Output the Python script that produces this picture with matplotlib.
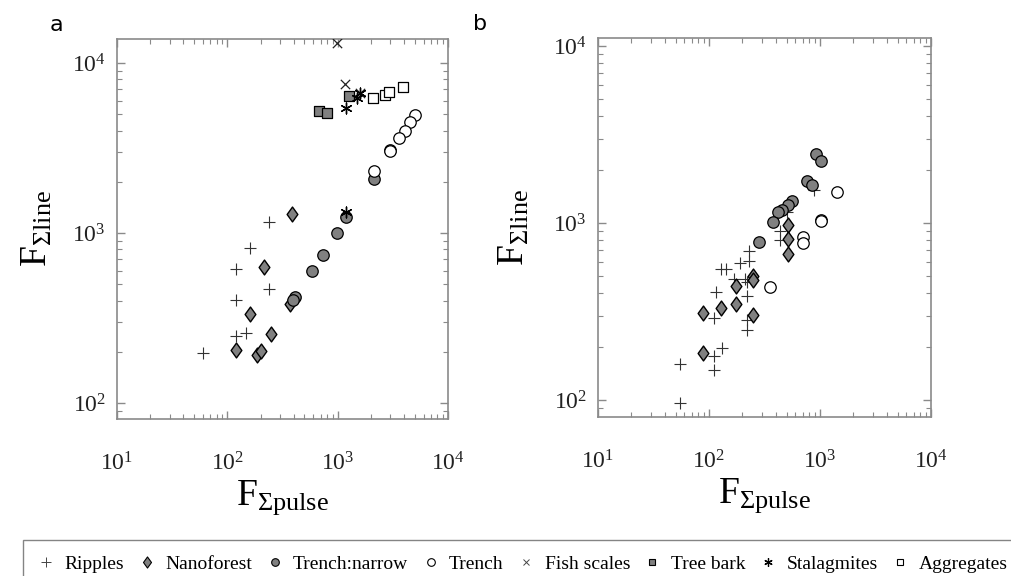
import matplotlib
matplotlib.use("Agg")
import matplotlib.pyplot as plt
from matplotlib.ticker import LogLocator, NullFormatter
from matplotlib.lines import Line2D
from matplotlib.path import Path

# panel a data: (F_pulse, F_line)
A_RIPPLES_X = [239, 160, 119, 239, 119, 119, 149, 60]
A_RIPPLES_Y = [1166, 813, 611, 467, 404, 249, 257, 196]
A_NANO_X = [389, 214, 160, 251, 119, 186, 201, 373]
A_NANO_Y = [1294, 634, 333, 255, 205, 192, 202, 381]
A_NARROW_X = [2120, 2960, 1200, 990, 736, 590, 414, 394]
A_NARROW_Y = [2080, 3080, 1250, 996, 743, 597, 422, 404]
A_TRENCH_X = [4980, 4490, 4040, 3590, 3000, 2120]
A_TRENCH_Y = [4940, 4480, 3980, 3600, 3030, 2300]
A_FISH_X = [980, 1175, 1580]
A_FISH_Y = [13100, 7500, 6700]
A_BARK_X = [673, 800, 1265]
A_BARK_Y = [5220, 5060, 6370]
A_STAL_X = [1200, 1580, 1510, 1200]
A_STAL_Y = [5410, 6640, 6190, 1323]
A_AGG_X = [2090, 2700, 2910, 3900]
A_AGG_Y = [6260, 6490, 6780, 7260]

# panel b data
B_RIPPLES_X = [55, 55, 111, 111, 130, 111, 116, 128, 141, 190, 231, 231,
               219, 219, 219, 219, 169, 437, 437, 889, 503, 211]
B_RIPPLES_Y = [96, 160, 147, 177, 197, 292, 406, 550, 550, 598, 693, 607,
               467, 389, 282, 249, 480, 798, 906, 1538, 1152, 480]
B_NANO_X = [511, 511, 511, 251, 251, 174, 174, 127, 88, 251, 88]
B_NANO_Y = [980, 816, 668, 501, 476, 442, 347, 330, 311, 301, 185]
B_NARROW_X = [920, 1020, 758, 853, 563, 511, 457, 416, 380, 284]
B_NARROW_Y = [2450, 2245, 1734, 1645, 1327, 1260, 1189, 1152, 1017, 776]
B_TRENCH_X = [1413, 1020, 1030, 708, 708, 355]
B_TRENCH_Y = [1490, 1045, 1030, 834, 766, 436]

LABELS = ["Ripples", "Nanoforest", "Trench:narrow", "Trench", "Fish scales",
          "Tree bark", "Stalagmites", "Aggregates"]

GREY = "#808080"
SERIF = ["Liberation Serif", "DejaVu Serif"]

plt.rcParams["font.family"] = SERIF
plt.rcParams["mathtext.fontset"] = "custom"
plt.rcParams["mathtext.rm"] = "Liberation Serif"
plt.rcParams["mathtext.it"] = "Liberation Serif"

# diamond a bit wider than matplotlib's thin 'd'
DIAMOND = Path([(0, 1), (0.72, 0), (0, -1), (-0.72, 0), (0, 1)],
               [Path.MOVETO, Path.LINETO, Path.LINETO, Path.LINETO, Path.CLOSEPOLY])

fig = plt.figure(figsize=(10.11, 5.76), dpi=100)
W, H = 1011, 576


def px_axes(l, t, r, b):
    return fig.add_axes([l / W, 1 - b / H, (r - l) / W, (b - t) / H])


def plot_series(ax, x, y, kind):
    if kind == "ripples":
        ax.scatter(x, y, marker="+", s=85, c="#333333", linewidths=0.8, zorder=3)
    elif kind == "nano":
        ax.scatter(x, y, marker=DIAMOND, s=115, c=GREY, edgecolors="black", linewidths=1.0, zorder=3)
    elif kind == "narrow":
        ax.scatter(x, y, marker="o", s=68, c=GREY, edgecolors="black", linewidths=0.9, zorder=3)
    elif kind == "trench":
        ax.scatter(x, y, marker="o", s=68, c="white", edgecolors="black", linewidths=0.9, zorder=3)
    elif kind == "fish":
        ax.scatter(x, y, marker="x", s=45, c="#222222", linewidths=0.9, zorder=4)
    elif kind == "bark":
        ax.scatter(x, y, marker="s", s=48, c=GREY, edgecolors="black", linewidths=0.9, zorder=3)
    elif kind == "stal":
        ax.scatter(x, y, marker=(6, 2, 0), s=60, c="black", linewidths=1.0, zorder=4)
    elif kind == "agg":
        ax.scatter(x, y, marker="s", s=48, c="white", edgecolors="black", linewidths=0.9, zorder=3)


def style_axes(ax, ylim):
    ax.set_xscale("log")
    ax.set_yscale("log")
    ax.set_xlim(10, 1e4)
    ax.set_ylim(*ylim)
    ax.set_xticks([1e1, 1e2, 1e3, 1e4])
    ax.set_yticks([1e2, 1e3, 1e4])
    ax.set_xticklabels([r"$10^1$", r"$10^2$", r"$10^3$", r"$10^4$"])
    ax.set_yticklabels([r"$10^2$", r"$10^3$", r"$10^4$"])
    ax.xaxis.set_minor_locator(LogLocator(base=10, subs=range(2, 10)))
    ax.yaxis.set_minor_locator(LogLocator(base=10, subs=range(2, 10)))
    ax.xaxis.set_minor_formatter(NullFormatter())
    ax.yaxis.set_minor_formatter(NullFormatter())
    for sp in ax.spines.values():
        sp.set_color("#8a8a8a")
        sp.set_linewidth(1.2)
    ax.tick_params(which="both", direction="in", top=True, right=True,
                   color="#8a8a8a", labelsize=17, labelcolor="#222222")
    ax.tick_params(which="major", length=6, width=1.0)
    ax.tick_params(which="minor", length=3.5, width=0.8)
    ax.tick_params(axis="x", which="major", pad=24)
    ax.tick_params(axis="y", which="major", pad=8)
    ax.set_xlabel(r"$\mathrm{F}_{\Sigma \mathrm{pulse}}$", fontsize=27)
    ax.set_ylabel(r"$\mathrm{F}_{\Sigma \mathrm{line}}$", fontsize=27)


ax_a = px_axes(117, 39, 448, 419)
plot_series(ax_a, A_RIPPLES_X, A_RIPPLES_Y, "ripples")
plot_series(ax_a, A_NANO_X, A_NANO_Y, "nano")
plot_series(ax_a, A_NARROW_X, A_NARROW_Y, "narrow")
plot_series(ax_a, A_TRENCH_X, A_TRENCH_Y, "trench")
plot_series(ax_a, A_BARK_X, A_BARK_Y, "bark")
plot_series(ax_a, A_AGG_X, A_AGG_Y, "agg")
plot_series(ax_a, A_FISH_X, A_FISH_Y, "fish")
plot_series(ax_a, A_STAL_X, A_STAL_Y, "stal")
style_axes(ax_a, (10 ** 1.906, 10 ** 4.141))
ax_a.yaxis.set_label_coords(-0.19, 0.5)
ax_a.xaxis.set_label_coords(0.5, -0.155)

ax_b = px_axes(598, 38, 931, 417)
plot_series(ax_b, B_RIPPLES_X, B_RIPPLES_Y, "ripples")
plot_series(ax_b, B_NANO_X, B_NANO_Y, "nano")
plot_series(ax_b, B_TRENCH_X, B_TRENCH_Y, "trench")
plot_series(ax_b, B_NARROW_X, B_NARROW_Y, "narrow")
style_axes(ax_b, (10 ** 1.904, 10 ** 4.045))
ax_b.yaxis.set_label_coords(-0.2, 0.5)
ax_b.xaxis.set_label_coords(0.5, -0.155)

fig.text(56 / W, 1 - 25 / H, "a", fontsize=16, family="DejaVu Sans", va="center", ha="center")
fig.text(480 / W, 1 - 24 / H, "b", fontsize=16, family="DejaVu Sans", va="center", ha="center")

# legend
handles = [
    Line2D([], [], ls="none", marker="+", ms=7, mec="#444444", mew=0.7),
    Line2D([], [], ls="none", marker=DIAMOND, ms=8, mfc=GREY, mec="black", mew=0.8),
    Line2D([], [], ls="none", marker="o", ms=5.5, mfc=GREY, mec="black", mew=0.8),
    Line2D([], [], ls="none", marker="o", ms=5.5, mfc="white", mec="black", mew=0.8),
    Line2D([], [], ls="none", marker="x", ms=5, mec="#444444", mew=0.7),
    Line2D([], [], ls="none", marker="s", ms=5, mfc=GREY, mec="black", mew=0.8),
    Line2D([], [], ls="none", marker=(6, 2, 0), ms=6, mec="black", mew=0.9),
    Line2D([], [], ls="none", marker="s", ms=5, mfc="white", mec="black", mew=0.8),
]
leg = fig.legend(handles, LABELS, loc="upper left", bbox_to_anchor=(23 / W, 1 - 540 / H),
                 ncol=8, frameon=True, fancybox=False,
                 handlelength=0.8, handletextpad=0.55, columnspacing=0.75,
                 borderpad=0.8, borderaxespad=0, prop={"family": SERIF, "size": 14})
leg.get_frame().set_edgecolor("#666666")
leg.get_frame().set_linewidth(1.0)

fig.savefig("out.png", dpi=100)
